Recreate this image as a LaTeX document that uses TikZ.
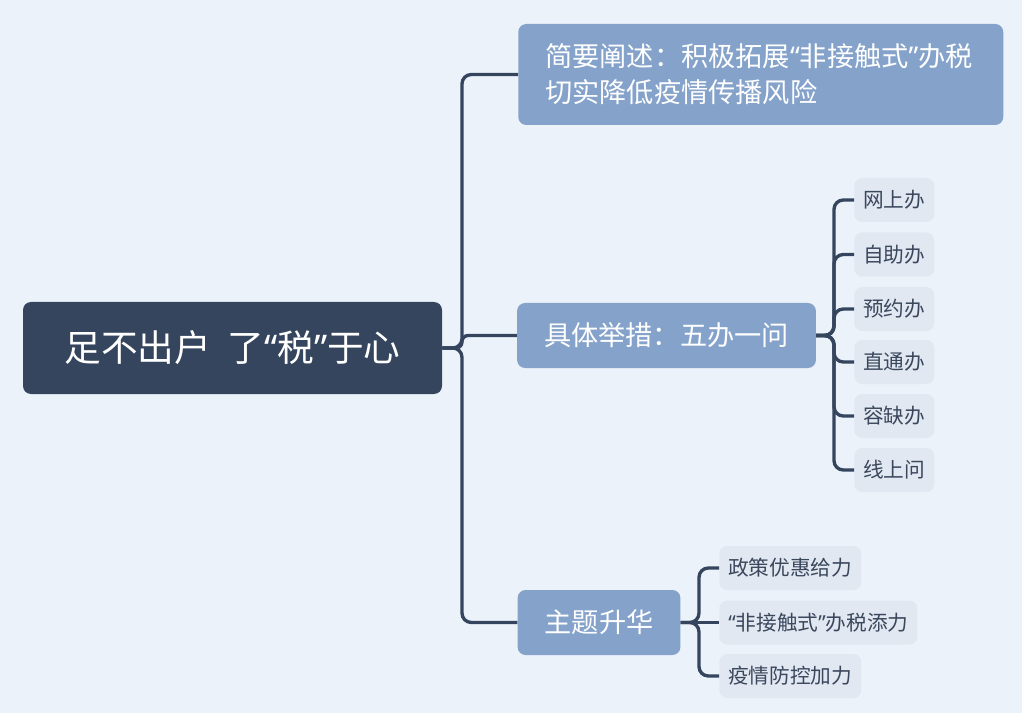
\documentclass[tikz,border=0pt]{standalone}
\usepackage{fontspec}
\newfontfamily\cjk{Noto Sans CJK SC}
\newfontfamily\latinq{Noto Sans}
\newcommand\qopen{{\latinq “}}
\newcommand\qclose{{\latinq ”}}
\definecolor{bgblue}{HTML}{EBF2FA}
\definecolor{rootnavy}{HTML}{35455E}
\definecolor{topicblue}{HTML}{84A2CA}
\definecolor{leafgray}{HTML}{E1E8F1}
\definecolor{leaftext}{HTML}{3A475C}
\begin{document}
\begin{tikzpicture}[x=0.75pt,y=-0.75pt,
  rootbox/.style={fill=rootnavy,text=white,rounded corners=6pt,minimum width=314.25pt,minimum height=69pt,inner sep=0pt,font=\cjk\fontsize{27.5}{32}\selectfont},
  topicbox/.style={fill=topicblue,text=white,rounded corners=6pt,minimum height=48.75pt,inner xsep=20.25pt,inner ysep=0pt,font=\cjk\fontsize{20.4}{27}\selectfont},
  leafbox/.style={fill=leafgray,text=leaftext,rounded corners=6pt,minimum height=33pt,inner xsep=6.75pt,inner ysep=0pt,anchor=west,font=\cjk\fontsize{15.5}{18}\selectfont},
  branch/.style={draw=rootnavy,line width=2.5pt,rounded corners=7pt}]
  % background
  \fill[bgblue] (0,0) rectangle (1022,713);
  \useasboundingbox (0,0) rectangle (1022,713);
  % central topic
  \node[rootbox] (root) at (232.5,348) {足不出户\ \ 了\qopen 税\qclose 于心};
  % main topics
  \node[topicbox,anchor=west,align=left,minimum width=363.75pt,minimum height=75.75pt,text width=323.25pt] (summary) at (518,74.5) {简要阐述：积极拓展\qopen 非接触式\qclose 办税\\切实降低疫情传播风险};
  \node[topicbox,minimum width=222.75pt] (measures) at (666.5,335.5) {具体举措：五办一问};
  \node[topicbox,minimum width=121.5pt] (sublime) at (599,622.5) {主题升华};
  % five ways and one channel
  \node[leafbox] (online) at (854,200) {网上办};
  \node[leafbox] (selfhelp) at (854,254.5) {自助办};
  \node[leafbox] (booking) at (854,309) {预约办};
  \node[leafbox] (direct) at (854,362) {直通办};
  \node[leafbox] (tolerant) at (854,416) {容缺办};
  \node[leafbox] (askonline) at (854,470) {线上问};
  % sublimation points
  \node[leafbox] (policy) at (719,568) {政策优惠给力};
  \node[leafbox] (contactless) at (719,622.5) {\qopen 非接触式\qclose 办税添力};
  \node[leafbox] (epidemic) at (719,676) {疫情防控加力};
  % forks
  \coordinate (rootfork) at (462,348);
  \coordinate (measurefork) at (834,335.5);
  \coordinate (sublimefork) at (699,622.5);
  % connectors
  \draw[branch] (root.east) -- (rootfork) |- (summary.west);
  \draw[branch,rounded corners=4.5pt] (root.east) -- (rootfork) |- (measures.west);
  \draw[branch] (root.east) -- (rootfork) |- (sublime.west);
  \draw[branch] (measures.east) -- (measurefork) |- (online.west);
  \draw[branch] (measures.east) -- (measurefork) |- (selfhelp.west);
  \draw[branch] (measures.east) -- (measurefork) |- (booking.west);
  \draw[branch] (measures.east) -- (measurefork) |- (direct.west);
  \draw[branch] (measures.east) -- (measurefork) |- (tolerant.west);
  \draw[branch] (measures.east) -- (measurefork) |- (askonline.west);
  \draw[branch] (sublime.east) -- (sublimefork) |- (policy.west);
  \draw[branch] (sublime.east) -- (contactless.west);
  \draw[branch] (sublime.east) -- (sublimefork) |- (epidemic.west);
\end{tikzpicture}
\end{document}
